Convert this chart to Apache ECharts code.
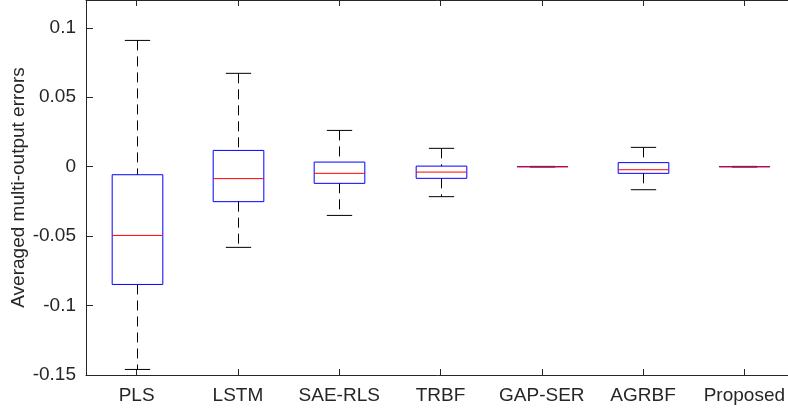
<!DOCTYPE html>
<html>
<head>
<meta charset="utf-8">
<script src="https://cdn.jsdelivr.net/npm/echarts@6/dist/echarts.min.js"></script>
<style>
html,body{margin:0;padding:0;background:#fff;}
#chart{width:788px;height:412px;}
</style>
</head>
<body>
<div id="chart"></div>
<script>
var categories = ['PLS', 'LSTM', 'SAE-RLS', 'TRBF', 'GAP-SER', 'AGRBF', 'Proposed'];
var whiskerLow  = [-0.146, -0.0581, -0.0351, -0.0216, -0.0002, -0.0166, -0.0002];
var q1Values    = [-0.0848, -0.0252, -0.0120, -0.0084, -0.0001, -0.0048, -0.0001];
var medians     = [-0.0495, -0.0086, -0.0048, -0.0039, 0.0000, -0.0022, 0.0000];
var q3Values    = [-0.0058, 0.0117, 0.0033, 0.0004, 0.0001, 0.0029, 0.0001];
var whiskerHigh = [0.0909, 0.0672, 0.0261, 0.0132, 0.0002, 0.0139, 0.0002];
var yTicks = [-0.15, -0.1, -0.05, 0, 0.05, 0.1];

var chart = echarts.init(document.getElementById('chart'), null, {renderer: 'canvas'});

var boxData = categories.map(function (c, i) {
  return [i, whiskerLow[i], q1Values[i], medians[i], q3Values[i], whiskerHigh[i]];
});

var axisColor = '#262626';
var fontFamily = 'Liberation Sans, Arial, sans-serif';
var fontSize = 19;

function renderBox(params, api) {
  var idx = api.value(0);
  var band = api.size([1, 0])[0];
  var lo = api.coord([idx, api.value(1)]);
  var q1 = api.coord([idx, api.value(2)]);
  var md = api.coord([idx, api.value(3)]);
  var q3 = api.coord([idx, api.value(4)]);
  var hi = api.coord([idx, api.value(5)]);
  var cx = Math.round(lo[0]) + 0.5;
  var boxHalf = band * 0.25;
  var capHalf = band * 0.125;
  var whiskerStyle = {stroke: '#000', lineWidth: 1, lineDash: [10, 6], fill: null};
  var capStyle = {stroke: '#000', lineWidth: 1, fill: null};
  return {
    type: 'group',
    children: [
      {type: 'line', shape: {x1: cx, y1: hi[1], x2: cx, y2: q3[1]}, style: whiskerStyle},
      {type: 'line', shape: {x1: cx, y1: q1[1], x2: cx, y2: lo[1]}, style: whiskerStyle},
      {type: 'line', shape: {x1: cx - capHalf, y1: hi[1], x2: cx + capHalf, y2: hi[1]}, style: capStyle},
      {type: 'line', shape: {x1: cx - capHalf, y1: lo[1], x2: cx + capHalf, y2: lo[1]}, style: capStyle},
      {type: 'rect', shape: {x: cx - boxHalf, y: q3[1], width: boxHalf * 2, height: q1[1] - q3[1]},
        style: {stroke: '#0000ff', lineWidth: 1, fill: null}},
      {type: 'line', shape: {x1: cx - boxHalf, y1: md[1], x2: cx + boxHalf, y2: md[1]},
        style: {stroke: '#ff0000', lineWidth: 1, fill: null}}
    ]
  };
}

var option = {
  animation: false,
  backgroundColor: '#ffffff',
  grid: {left: 86, top: 0, width: 709, height: 375, containLabel: false, outerBoundsMode: 'none'},
  xAxis: [
    {
      type: 'category', data: categories, position: 'bottom',
      axisLine: {show: true, onZero: false, lineStyle: {color: axisColor, width: 1}},
      axisTick: {show: true, inside: true, length: 6, alignWithLabel: true, lineStyle: {color: axisColor}},
      axisLabel: {color: axisColor, fontSize: fontSize, fontFamily: fontFamily, margin: 11, interval: 0},
      splitLine: {show: false}
    },
    {
      type: 'category', data: categories, position: 'top',
      axisLine: {show: true, onZero: false, lineStyle: {color: axisColor, width: 1}},
      axisTick: {show: true, inside: true, length: 6, alignWithLabel: true, lineStyle: {color: axisColor}},
      axisLabel: {show: false},
      splitLine: {show: false}
    }
  ],
  yAxis: [
    {
      type: 'value', min: -0.15, max: 0.12, interval: 0.05, position: 'left',
      name: 'Averaged multi-output errors', nameLocation: 'middle', nameGap: 58, nameRotate: 90,
      nameMoveOverlap: false,
      nameTextStyle: {color: axisColor, fontSize: fontSize, fontFamily: fontFamily},
      axisLine: {show: true, onZero: false, lineStyle: {color: axisColor, width: 1}},
      axisTick: {show: true, inside: true, length: 7, lineStyle: {color: axisColor}},
      axisLabel: {
        color: axisColor, fontSize: fontSize, fontFamily: fontFamily, margin: 10,
        showMaxLabel: false,
        formatter: function (v) {
          for (var k = 0; k < yTicks.length; k++) {
            if (Math.abs(v - yTicks[k]) < 1e-9) return String(yTicks[k]);
          }
          return '';
        }
      },
      splitLine: {show: false}
    },
    {
      type: 'value', min: -0.15, max: 0.12, interval: 0.05, position: 'right',
      axisLine: {show: true, onZero: false, lineStyle: {color: axisColor, width: 1}},
      axisTick: {show: true, inside: true, length: 7, lineStyle: {color: axisColor}},
      axisLabel: {show: false},
      splitLine: {show: false}
    }
  ],
  series: [
    {
      type: 'custom',
      xAxisIndex: 0, yAxisIndex: 0,
      renderItem: renderBox,
      encode: {x: 0, y: [1, 2, 3, 4, 5]},
      data: boxData,
      clip: false
    }
  ]
};
chart.setOption(option);
</script>
</body>
</html>
